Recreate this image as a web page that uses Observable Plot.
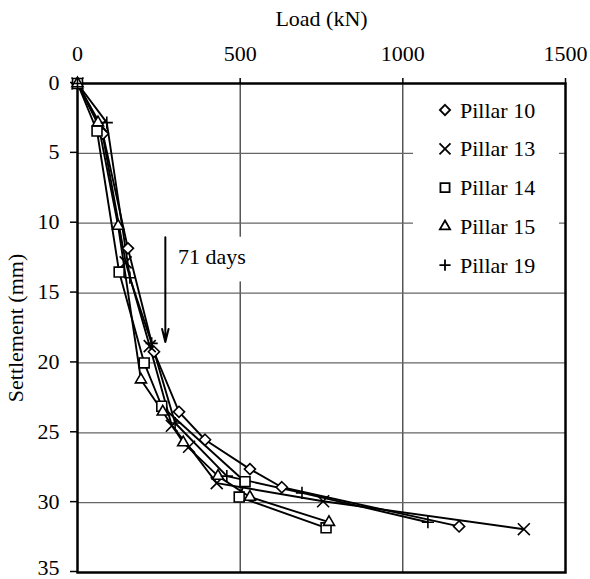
<!DOCTYPE html>
<html><head><meta charset="utf-8">
<script src="https://cdn.jsdelivr.net/npm/d3@7"></script>
<script src="https://cdn.jsdelivr.net/npm/@observablehq/plot@0.6"></script>
<style>
body{margin:0;background:#fff;}
#wrap{position:relative;width:590px;height:579px;font-family:"Liberation Serif","DejaVu Serif",serif;}
#wrap svg text{font-family:"Liberation Serif","DejaVu Serif",serif !important;}
#legend{position:absolute;left:413px;top:86px;}
</style></head><body><div id="wrap"></div>
<script>
// ---- data ----
const pillars = ["Pillar 10", "Pillar 13", "Pillar 14", "Pillar 15", "Pillar 19"];
const symbolNames = ["diamond2", "times", "square2", "triangle2", "plus"];

const p10Load   = [0, 78, 155, 235, 312, 392, 530, 628, 1173];
const p10Settle = [0, 3.6, 11.8, 19.2, 23.5, 25.5, 27.6, 28.9, 31.7];

const p13Load   = [0, 72, 148, 222, 290, 343, 428, 755, 1372];
const p13Settle = [0, 3.0, 12.8, 18.8, 24.5, 26.0, 28.6, 29.9, 31.9];

const p14Load   = [0, 60, 128, 205, 259, 515, 497, 764];
const p14Settle = [0, 3.4, 13.5, 20.0, 23.1, 28.5, 29.6, 31.8];

const p15Load   = [0, 63, 125, 195, 262, 325, 432, 530, 773];
const p15Settle = [0, 2.8, 10.2, 21.2, 23.5, 25.7, 28.1, 29.6, 31.4];

const p19Load   = [0, 90, 161, 228, 300, 459, 690, 1077];
const p19Settle = [0, 2.8, 13.9, 18.6, 24.3, 28.1, 29.3, 31.4];

const xTicks = [0, 500, 1000, 1500];
const yTicks = [0, 5, 10, 15, 20, 25, 30, 35];
const xGrid = [500, 1000];
const yGrid = [5, 10, 15, 20, 25, 30];

const noteLabel = ["71 days"];
const noteLoad = [309];
const noteSettle = [12.4];
const arrowLoad = [270];
const arrowFrom = [11.0];
const arrowTo = [18.5];
const noteBox = [{x1: 290, x2: 545, y1: 11.0, y2: 14.2}];

// ---- build ----
const series = [
  {name: pillars[0], load: p10Load, settle: p10Settle, symbol: symbolNames[0], r: 5},
  {name: pillars[1], load: p13Load, settle: p13Settle, symbol: symbolNames[1], r: 5.5},
  {name: pillars[2], load: p14Load, settle: p14Settle, symbol: symbolNames[2], r: 6.3},
  {name: pillars[3], load: p15Load, settle: p15Settle, symbol: symbolNames[3], r: 5.3},
  {name: pillars[4], load: p19Load, settle: p19Settle, symbol: symbolNames[4], r: 4}
];
const rows = s => s.load.map((x, i) => ({x, y: s.settle[i]}));

const font = '"Liberation Serif", "DejaVu Serif", serif';
const lastY = yTicks[yTicks.length - 1];

const marks = [
  Plot.ruleX(xGrid, {stroke: "#000", strokeWidth: 1}),
  Plot.ruleY(yGrid, {stroke: "#666", strokeWidth: 1.2}),
  Plot.rect(noteBox, {x1: "x1", x2: "x2", y1: "y1", y2: "y2", fill: "white"}),
  Plot.axisX({anchor: "top", ticks: xTicks, tickSize: 6, tickPadding: 17, tickFormat: d => String(d),
    label: "Load (kN)", labelAnchor: "center", labelArrow: "none", labelOffset: 73, strokeWidth: 1.5}),
  Plot.axisY({anchor: "left", ticks: yTicks, tickSize: 7, tickPadding: 11,
    tickFormat: d => (d === lastY ? "" : String(d)), dy: -1,
    label: "Settlement (mm)", labelAnchor: "center", labelArrow: "none", labelOffset: 70, strokeWidth: 1.5}),
  Plot.axisY({anchor: "left", ticks: [lastY], tickSize: 0, tickPadding: 18, tickFormat: d => String(d), dy: -5, label: null}),
  Plot.frame({stroke: "black", strokeWidth: 2.5})
];
for (const s of series) {
  marks.push(Plot.line(rows(s), {x: "x", y: "y", stroke: "black", strokeWidth: 1.9}));
}
for (const s of series) {
  marks.push(Plot.dot(rows(s), {x: "x", y: "y", symbol: () => s.symbol, r: s.r, stroke: "black", strokeWidth: 1.6, fill: "white"}));
}
marks.push(
  Plot.arrow(arrowLoad.map((x, i) => ({x, y1: arrowFrom[i], y2: arrowTo[i]})),
    {x1: "x", x2: "x", y1: "y1", y2: "y2", stroke: "black", strokeWidth: 2, headLength: 10, headAngle: 28}),
  Plot.text(noteLabel.map((t, i) => ({t, x: noteLoad[i], y: noteSettle[i]})),
    {x: "x", y: "y", text: "t", textAnchor: "start", lineAnchor: "middle", fontSize: 22, fill: "black"})
);

const chart = Plot.plot({
  width: 590, height: 579,
  marginLeft: 77, marginTop: 83, marginRight: 25, marginBottom: 7,
  style: {fontFamily: font, fontSize: "22px", color: "black", background: "white", overflow: "visible"},
  x: {domain: [0, 1500]},
  y: {domain: [0, 35], reverse: true},
  symbol: {type: "identity"},
  marks
});
document.getElementById("wrap").appendChild(chart);

// ---- legend (white box inside plot, upper right) ----
const lw = 146, lh = 198;
const leg = d3.select("#wrap").append("svg").attr("id", "legend")
  .attr("width", lw).attr("height", lh);
leg.append("rect").attr("width", lw).attr("height", lh).attr("fill", "white");
const symMap = {diamond2: d3.symbolDiamond2, times: d3.symbolTimes, square2: d3.symbolSquare2, triangle2: d3.symbolTriangle2, plus: d3.symbolPlus};
series.forEach((s, i) => {
  const cy = 24 + i * 38.8;
  const g = leg.append("g").attr("transform", `translate(32,${cy})`);
  g.append("path").attr("d", d3.symbol(symMap[s.symbol], Math.PI * s.r * s.r * 0.85)())
    .attr("fill", "none").attr("stroke", "black").attr("stroke-width", 1.8);
  leg.append("text").attr("x", 47).attr("y", cy + 7.5).text(s.name)
    .attr("font-size", 22).attr("fill", "black");
});
</script></body></html>
